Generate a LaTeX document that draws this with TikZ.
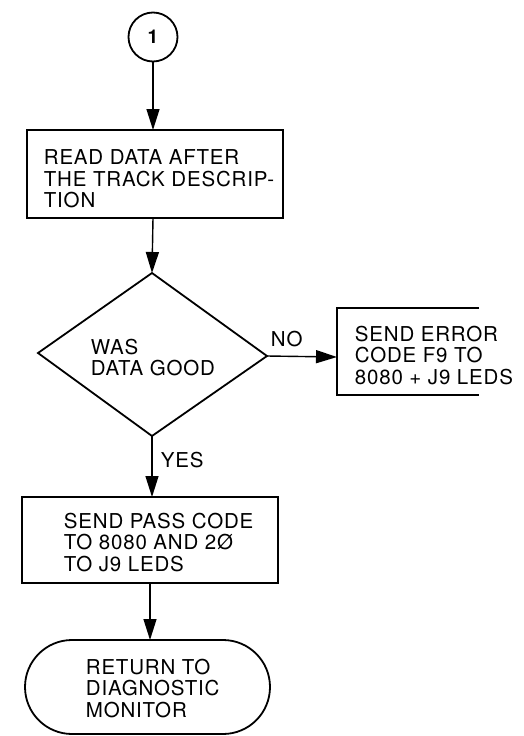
\documentclass[tikz,border=0pt]{standalone}
\usepackage{fontspec}
\setmainfont{TeX Gyre Heros}[LetterSpace=4]
\usetikzlibrary{arrows.meta,shapes.geometric}
\begin{document}
\begin{tikzpicture}[x=1pt,y=-1pt,
  line width=1.8pt,
  lbl/.style={font=\fontsize{20.5}{22}\selectfont,inner sep=0pt},
  boxtxt/.style={font=\fontsize{20.5}{21.5}\selectfont,align=left,anchor=north west,inner sep=0pt},
  arr/.style={-{Triangle[length=21pt,width=13pt]},line width=1.4pt}]
\useasboundingbox (0,0) rectangle (523,736);
% connector circle
\node[draw,circle,minimum size=49pt,inner sep=0pt,font=\fontsize{19}{22}\selectfont\bfseries] (c1) at (153,37) {1};
% box 1
\draw (27,130) rectangle (283,218);
\coordinate (b1t) at (153,130);
\coordinate (b1b) at (153,218);
\node[boxtxt] (t1) at (43,149) {READ DATA AFTER\\THE TRACK DESCRIP-\\TION};
% diamond
\draw (152,273) -- (267,356) -- (152,436) -- (38,353) -- cycle;
\coordinate (dt) at (152,273);
\coordinate (dr) at (267,356);
\coordinate (db) at (152,436);
\node[boxtxt] (td) at (90,338) {WAS\\DATA GOOD};
% error box (open on right)
\draw (479,308) -- (337,308) -- (337,395) -- (479,395);
\coordinate (el) at (337,357);
\node[boxtxt] (te) at (354,325) {SEND ERROR\\CODE F9 TO\\8080 + J9 LEDS};
% box 2
\draw (22,497) rectangle (278,583);
\coordinate (b2t) at (152,497);
\coordinate (b2b) at (150,583);
\node[boxtxt] (t2) at (63,512) {SEND PASS CODE\\TO 8080 AND 2\O\\TO J9 LEDS};
% terminal
\draw[rounded corners=47pt] (25,640) rectangle (270,734);
\coordinate (tt) at (150,640);
\node[boxtxt] (tx) at (85,658) {RETURN TO\\DIAGNOSTIC\\MONITOR};
% connectors
\draw[arr] (c1.south) -- (b1t);
\draw[arr] (b1b) -- (dt);
\draw[arr] (dr) -- (el);
\draw[arr] (db) -- (b2t);
\draw[arr] (b2b) -- (tt);
\node[lbl,anchor=base west] (no) at (270,346) {NO};
\node[lbl,anchor=base west] (yes) at (160,467) {YES};
\end{tikzpicture}
\end{document}
